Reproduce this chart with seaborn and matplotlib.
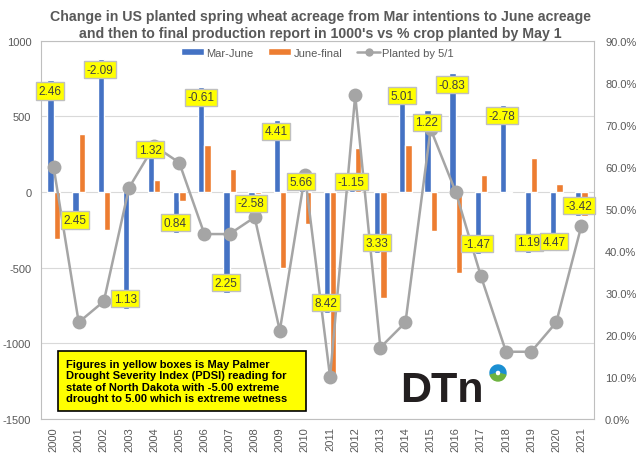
import numpy as np
import pandas as pd
import matplotlib
matplotlib.use("Agg")
import matplotlib.pyplot as plt
from matplotlib.lines import Line2D
from matplotlib.patches import Wedge, Rectangle
import seaborn as sns

# values
years = [str(y) for y in range(2000, 2022)]
mar_june = [740, -253, 880, -775, 345, -271, 697, -667, -130, 473, 40,
            -798, 30, -403, 701, 539, 787, -412, 576, -405, -392, -158]
june_final = [-308, 385, -253, 50, 81, -62, 308, 154, -16, -502, -210,
              -1237, 292, -702, 312, -260, -533, 110, -7, 226, 50, -158]
planted_by_may1 = [60, 23, 28, 55, 65, 61, 44, 44, 48, 21, 58,
                   10, 77, 17, 23, 69, 54, 34, 16, 16, 23, 46]
pdsi = [2.46, 2.45, -2.09, 1.13, 1.32, 0.84, -0.61, 2.25, -2.58, 4.41, 5.66,
        8.42, -1.15, 3.33, 5.01, 1.22, -0.83, -1.47, -2.78, 1.19, 4.47, -3.42]

# where the yellow boxes sit (left axis units), placed by hand in the original
label_y = [667, -185, 809, -704, 279, -204, 627, -599, -74, 401, 68,
           -731, 68, -335, 636, 462, 710, -341, 505, -331, -327, -90]

title = ("Change in US planted spring wheat acreage from Mar intentions to June acreage\n"
         "and then to final production report in 1000's vs % crop planted by May 1")
note = ("Figures in yellow boxes is May Palmer\n"
        "Drought Severity Index (PDSI) reading for\n"
        "state of North Dakota with -5.00 extreme\n"
        "drought to 5.00 which is extreme wetness")

blue = "#4472C4"
orange = "#ED7D31"
grey = "#A5A5A5"
txt = "#595959"

sns.set_style("white")
plt.rcParams["font.family"] = ["Liberation Sans", "DejaVu Sans"]
plt.rcParams["axes.unicode_minus"] = False

W, H = 640, 460

df = pd.DataFrame({
    "year": years * 2,
    "value": mar_june + june_final,
    "series": ["Mar-June"] * len(years) + ["June-final"] * len(years),
})

fig = plt.figure(figsize=(6.4, 4.6), dpi=100)
ax = fig.add_axes([41 / W, 40 / H, 553 / W, 378.3 / H])

sns.barplot(data=df, x="year", y="value", hue="series",
            palette=[blue, orange], width=0.5, saturation=1,
            ax=ax, legend=True)
ax.set_ylim(-1500, 1000)
ax.set_yticks(np.arange(-1500, 1001, 500))
ax.set_xlim(-0.5, len(years) - 0.5)
ax.yaxis.grid(True, color="#D9D9D9", lw=0.8)
ax.set_axisbelow(True)
ax.set_xlabel("")
ax.set_ylabel("")
ax.tick_params(axis="x", rotation=90, labelsize=8, colors=txt, length=0, pad=5)
ax.tick_params(axis="y", labelsize=8, colors=txt, length=0, pad=7)
for s in ax.spines.values():
    s.set_color("#BFBFBF")
    s.set_linewidth(0.8)

bar_handles, bar_labels = ax.get_legend_handles_labels()
ax.get_legend().remove()

ax2 = ax.twinx()
sns.lineplot(x=np.arange(len(years)), y=planted_by_may1, ax=ax2,
             color=grey, lw=1.8, marker="o", markersize=10,
             markeredgewidth=0, zorder=3)
ax2.set_ylim(0, 90)
ax2.set_yticks(np.arange(0, 91, 10))
ax2.set_yticklabels([f"{v:.1f}%" for v in np.arange(0, 91, 10)])
ax2.tick_params(axis="y", labelsize=8, colors=txt, length=0, pad=8)
ax2.set_xlim(-0.5, len(years) - 0.5)
for s in ax2.spines.values():
    s.set_visible(False)

# PDSI boxes, drawn above the line
for i, (v, y) in enumerate(zip(pdsi, label_y)):
    dx = -0.09 if i >= 19 else -0.15
    ax2.text(i + dx, y, f"{v:.2f}", transform=ax.transData,
             ha="center", va="center", fontsize=8.5, color="#404040", zorder=5,
             bbox=dict(boxstyle="square,pad=0.22", fc="#FFFF00", ec="#BFBFBF", lw=1))

line_handle = Line2D([], [], color=grey, lw=1.8, marker="o", markersize=6,
                     markeredgewidth=0)
ax2.legend(bar_handles + [line_handle], bar_labels + ["Planted by 5/1"],
           loc="center", bbox_to_anchor=(0.5, 1 - 12 / 378), ncol=3,
           frameon=False, fontsize=8, labelcolor=txt, handlelength=2.1,
           handleheight=0.55, columnspacing=1.3, handletextpad=0.2)

fig.text(0.5, 0.945, title, ha="center", va="center", fontsize=10.2,
         fontweight="bold", color=txt, linespacing=1.25)

# note box
fig.patches.append(Rectangle((58 / W, 1 - 412 / H), 248 / W, 60 / H,
                             transform=fig.transFigure, fc="#FFFF00",
                             ec="black", lw=1.2, zorder=6))
fig.text(66 / W, 1 - 382 / H, note, ha="left", va="center", fontsize=8,
         fontweight="bold", color="black", linespacing=1.15, zorder=7)

# DTN logo
fig.text(400 / W, 1 - 391 / H, "DTn", ha="left", va="center",
         fontsize=31, fontweight="bold", color="#231F20")
cx, cy = 498 / W, 1 - 374 / H
lax = fig.add_axes([cx - 10 / W, cy - 10 / H, 20 / W, 20 / H])
lax.set_xlim(-10, 10)
lax.set_ylim(-10, 10)
lax.set_aspect("equal")
lax.axis("off")
lax.add_patch(Wedge((0, 0), 8, -15, 195, width=5, color="#1B8FD2"))
lax.add_patch(Wedge((0, 0), 8, 195, 345, width=5, color="#6DB33F"))

fig.savefig("out.png", dpi=100)
